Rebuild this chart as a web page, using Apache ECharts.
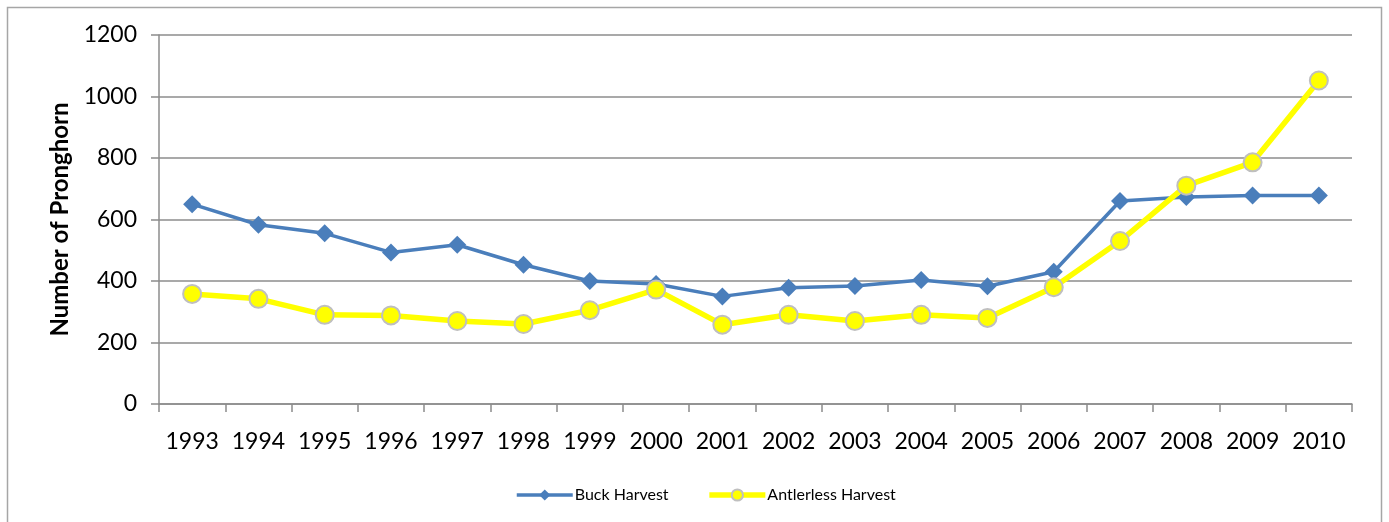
<!DOCTYPE html>
<html>
<head>
<meta charset="utf-8">
<style>
  html, body { margin: 0; padding: 0; background: #ffffff; }
  #chart { width: 1389px; height: 522px; }
</style>
<script src="https://cdn.jsdelivr.net/npm/echarts@6/dist/echarts.min.js"></script>
</head>
<body>
<div id="chart"></div>
<script>
// Pronghorn harvest by year
const years = ['1993','1994','1995','1996','1997','1998','1999','2000','2001',
               '2002','2003','2004','2005','2006','2007','2008','2009','2010'];
const buckHarvest = [650, 583, 555, 493, 518, 453, 400, 390, 350,
                     378, 384, 403, 383, 430, 660, 673, 678, 678];
const antlerlessHarvest = [358, 342, 290, 288, 270, 260, 305, 372, 258,
                           290, 270, 290, 280, 380, 530, 710, 786, 1052];
const yTicks = [0, 200, 400, 600, 800, 1000, 1200];

const FONT = 'Lato, "Open Sans", sans-serif';
const chart = echarts.init(document.getElementById('chart'), null, { renderer: 'canvas' });

chart.setOption({
  backgroundColor: '#ffffff',
  animation: false,
  graphic: [{
    type: 'rect',
    shape: { x: 7.5, y: 7.5, width: 1374, height: 530 },
    style: { fill: 'none', stroke: '#a6a6a6', lineWidth: 1.5 },
    silent: true
  }],
  grid: { left: 159, right: 37, top: 35, bottom: 118, containLabel: false },
  legend: {
    bottom: 14,
    left: 510,
    itemWidth: 56,
    itemHeight: 14,
    itemGap: 38,
    textStyle: { fontFamily: FONT, fontSize: 16, color: '#000000', padding: [0, 0, 0, -3] },
    data: [
      { name: 'Buck Harvest', lineStyle: { width: 3.5 } },
      { name: 'Antlerless Harvest', lineStyle: { width: 5.5 } }
    ]
  },
  xAxis: {
    type: 'category',
    data: years,
    boundaryGap: true,
    axisLine: { lineStyle: { color: '#8c8c8c', width: 1.5 } },
    axisTick: { show: true, length: 8, alignWithLabel: false, interval: 0, lineStyle: { color: '#8c8c8c', width: 1.5 } },
    axisLabel: { fontFamily: FONT, fontSize: 23, color: '#000000', margin: 26, interval: 0 },
    splitLine: { show: false }
  },
  yAxis: {
    type: 'value',
    min: 0,
    max: 1200,
    interval: 200,
    name: 'Number of Pronghorn',
    nameLocation: 'middle',
    nameGap: 87,
    nameRotate: 90,
    nameTextStyle: { fontFamily: FONT, fontSize: 24, fontWeight: 'bold', color: '#000000' },
    axisLine: { show: true, lineStyle: { color: '#8c8c8c', width: 1.5 } },
    axisTick: { show: true, length: 8, lineStyle: { color: '#8c8c8c', width: 1.5 } },
    axisLabel: {
      fontFamily: FONT, fontSize: 23, color: '#000000', margin: 22,
      formatter: v => yTicks.includes(v) ? String(v) : ''
    },
    splitLine: { show: true, lineStyle: { color: '#8c8c8c', width: 1.5 } }
  },
  series: [
    {
      name: 'Buck Harvest',
      type: 'line',
      data: buckHarvest,
      symbol: 'diamond',
      symbolSize: 18,
      lineStyle: { color: '#4a7ebb', width: 3.5 },
      itemStyle: { color: '#4a7ebb', borderWidth: 0 },
      z: 2
    },
    {
      name: 'Antlerless Harvest',
      type: 'line',
      data: antlerlessHarvest,
      symbol: 'circle',
      symbolSize: 18,
      lineStyle: { color: '#ffff00', width: 5.5 },
      itemStyle: { color: '#ffff00', borderColor: '#bfbfbf', borderWidth: 2 },
      z: 3
    }
  ]
});
</script>
</body>
</html>
